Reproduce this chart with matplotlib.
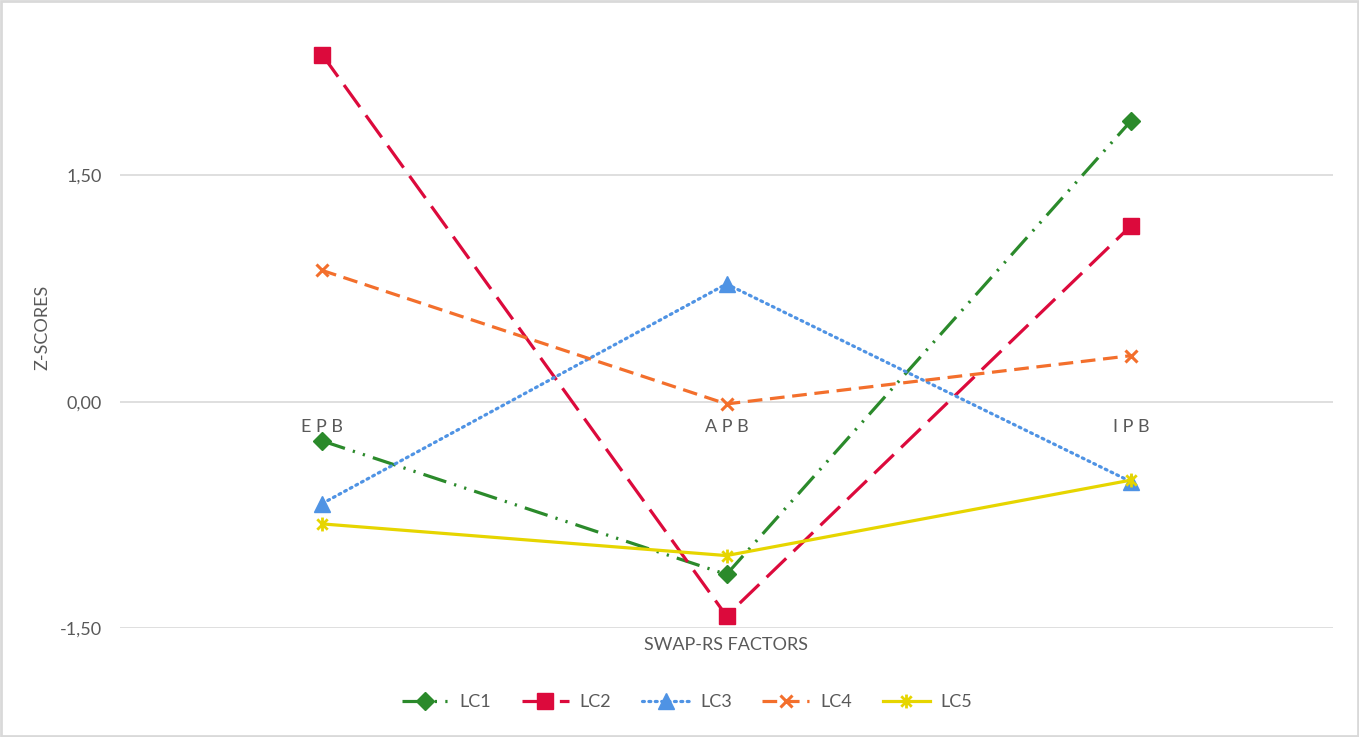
import matplotlib.pyplot as plt
from matplotlib.path import Path
from matplotlib.patches import Rectangle

categories = ["E P B", "A P B", "I P B"]
lc1 = [-0.26, -1.145, 1.86]
lc2 = [2.30, -1.42, 1.165]
lc3 = [-0.675, 0.78, -0.53]
lc4 = [0.87, -0.015, 0.305]
lc5 = [-0.81, -1.02, -0.52]
yticks = [-1.5, 0.0, 1.5]
ytick_labels = ["-1,50", "0,00", "1,50"]

plt.rcParams['font.family'] = ['Lato', 'DejaVu Sans']

# asterisk marker like excel's "star"
star = Path([(0, -1), (0, 1), (-0.75, -0.75), (0.75, 0.75), (-0.75, 0.75), (0.75, -0.75)],
            [Path.MOVETO, Path.LINETO, Path.MOVETO, Path.LINETO, Path.MOVETO, Path.LINETO])

W, H = 1359, 737
fig = plt.figure(figsize=(W / 100, H / 100), dpi=100)
ymin, ymax = -1.5, 2.5
top_px = 24.5
bot_px = 628
ax = fig.add_axes([120 / W, 1 - bot_px / H, (1333 - 120) / W, (bot_px - top_px) / H])

x = range(len(categories))
lw = 2.3
ax.plot(x, lc1, color='#2b8a2b', lw=lw, dashes=(7.5, 2.6, 0.7, 2.6, 0.7, 2.6),
        marker='D', ms=9.5, label='LC1')
ax.plot(x, lc2, color='#dc0a3c', lw=lw, dashes=(8.5, 3.2),
        marker='s', ms=11, label='LC2')
ax.plot(x, lc3, color='#4f93e4', lw=lw, dashes=(0.6, 1.4), dash_capstyle='round',
        marker='^', ms=11, label='LC3')
ax.plot(x, lc4, color='#f36f2c', lw=lw, dashes=(4.6, 2.4),
        marker='x', ms=9, mew=2.2, label='LC4')
ax.plot(x, lc5, color='#e6d500', lw=lw,
        marker=star, ms=10, mew=2, label='LC5')

ax.set_xlim(-0.5, 2.5)
ax.set_ylim(ymin, ymax)
ax.set_yticks(yticks)
ax.set_yticklabels(ytick_labels, fontsize=13, color='#595959')
ax.tick_params(axis='y', length=0, pad=13)
ax.set_xticks([])
ax.grid(axis='y', color='#d9d9d9', lw=1.2)
ax.set_axisbelow(True)
for s in ax.spines.values():
    s.set_visible(False)

for i, c in enumerate(categories):
    ax.annotate(c, (i, 0), xytext=(0, -18.5), textcoords='offset points',
                ha='center', va='center', fontsize=13, color='#595959')

fig.text(42 / W, 1 - 327 / H, 'Z-SCORES', rotation=90, ha='center', va='center',
         fontsize=13, color='#595959')
fig.text(726 / W, 1 - 645 / H, 'SWAP-RS FACTORS', ha='center', va='center',
         fontsize=13, color='#595959')

fig.legend(loc='center', bbox_to_anchor=(687 / W, 1 - 702 / H), ncol=5, frameon=False,
           fontsize=13, labelcolor='#595959', handlelength=2.6, columnspacing=1.7,
           handletextpad=0.6)

fig.patches.append(Rectangle((0.001, 0.001), 0.998, 0.997, transform=fig.transFigure,
                             fill=False, ec='#d9d9d9', lw=2))

fig.savefig('out.png', dpi=100)
